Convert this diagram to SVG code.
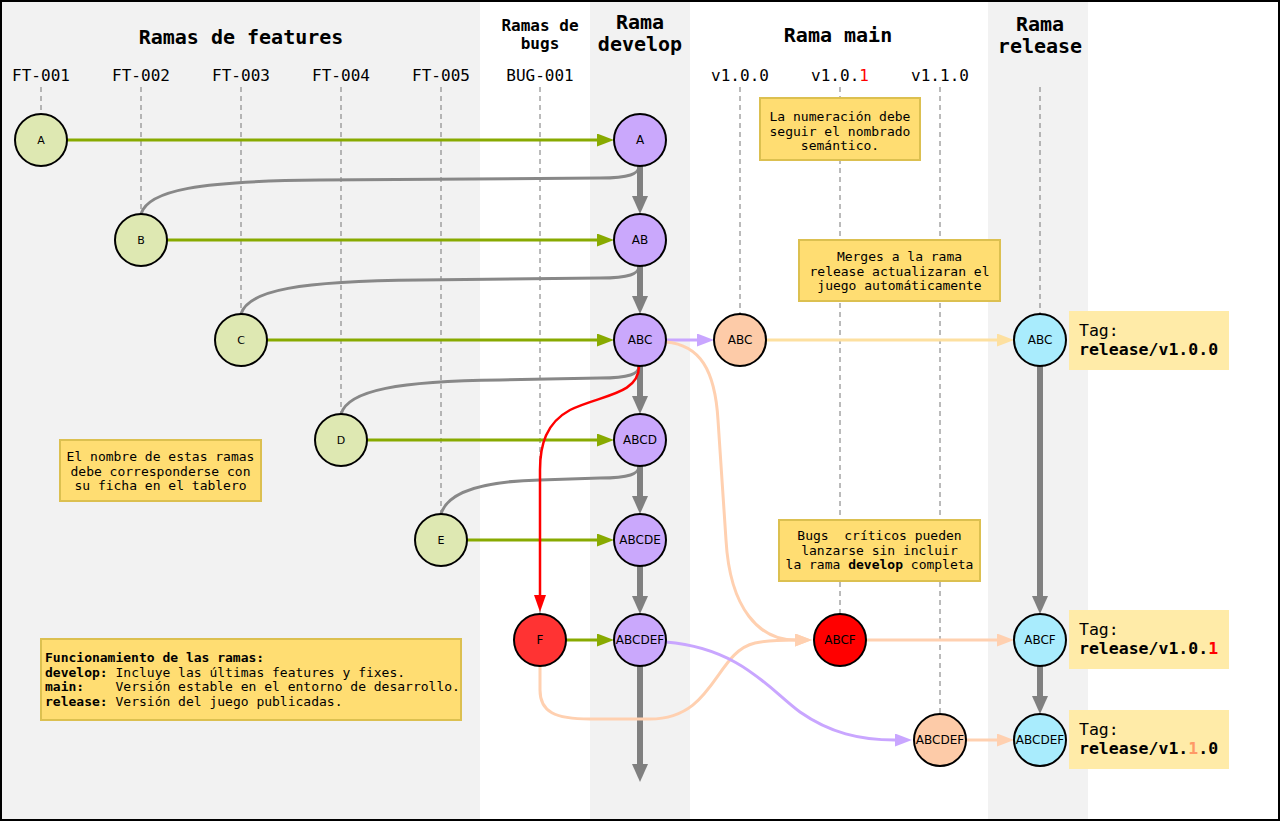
<svg xmlns="http://www.w3.org/2000/svg" width="1280" height="821" viewBox="0 0 1280 821">
<style>
.hdr{font-family:"DejaVu Sans Mono","Liberation Mono",monospace;font-weight:bold;font-size:20px;fill:#000;text-anchor:middle}
.hdr2{font-family:"DejaVu Sans Mono","Liberation Mono",monospace;font-weight:bold;font-size:16px;fill:#000;text-anchor:middle}
.col{font-family:"DejaVu Sans Mono","Liberation Mono",monospace;font-size:16px;fill:#000;text-anchor:middle}
.dash{stroke:#777;stroke-width:1;stroke-dasharray:5,4;fill:none}
.node{stroke:#000;stroke-width:2}
.nt{font-family:"DejaVu Sans","Liberation Sans",sans-serif;font-size:12px;fill:#000;text-anchor:middle;dominant-baseline:central}
.ntf{font-family:"DejaVu Sans","Liberation Sans",sans-serif;font-size:11px;fill:#000;text-anchor:middle;dominant-baseline:central}
.feat{fill:#dee8b2}
.dev{fill:#caa8fc}
.bug{fill:#ff3333}
.mainp{fill:#fdcba8}
.mainr{fill:#ff0000}
.rel{fill:#a9ecfd}
.note{fill:#ffdd72;stroke:#dcc050;stroke-width:2}
.nte{font-family:"DejaVu Sans Mono","Liberation Mono",monospace;font-size:13px;fill:#000;text-anchor:middle}
.ntl{font-family:"DejaVu Sans Mono","Liberation Mono",monospace;font-size:13px;fill:#000}
.tagbox{fill:#ffeba8}
.tag{font-family:"DejaVu Sans Mono","Liberation Mono",monospace;font-size:16.5px;fill:#000}
.trunk{stroke:#808080;stroke-width:6;fill:none}
.gcurve{stroke:#888;stroke-width:3;fill:none}
.green{stroke:#88aa00;stroke-width:3;fill:none;marker-end:url(#mGreen)}
.lav{stroke:#c9a6ff;stroke-width:3;fill:none;marker-end:url(#mLav)}
.peach{stroke:#ffd0b0;stroke-width:3;fill:none;marker-end:url(#mPeach)}
.yel{stroke:#fde0a0;stroke-width:3;fill:none;marker-end:url(#mYel)}
.red{stroke:#ff0000;stroke-width:2.5;fill:none;marker-end:url(#mRed)}
</style>
<defs>
<marker id="mGray" markerUnits="userSpaceOnUse" markerWidth="18" markerHeight="16" refX="0" refY="8" orient="auto"><path d="M0,0 L18,8 L0,16 z" fill="#808080"/></marker>
<marker id="mGreen" markerUnits="userSpaceOnUse" markerWidth="17" markerHeight="13" refX="0" refY="6.5" orient="auto"><path d="M0,0 L17,6.5 L0,13 z" fill="#88aa00"/></marker>
<marker id="mLav" markerUnits="userSpaceOnUse" markerWidth="17" markerHeight="13" refX="0" refY="6.5" orient="auto"><path d="M0,0 L17,6.5 L0,13 z" fill="#c9a6ff"/></marker>
<marker id="mPeach" markerUnits="userSpaceOnUse" markerWidth="17" markerHeight="13" refX="0" refY="6.5" orient="auto"><path d="M0,0 L17,6.5 L0,13 z" fill="#ffd0b0"/></marker>
<marker id="mYel" markerUnits="userSpaceOnUse" markerWidth="17" markerHeight="13" refX="0" refY="6.5" orient="auto"><path d="M0,0 L17,6.5 L0,13 z" fill="#fde0a0"/></marker>
<marker id="mRed" markerUnits="userSpaceOnUse" markerWidth="17" markerHeight="12" refX="0" refY="6" orient="auto"><path d="M0,0 L17,6 L0,12 z" fill="#ff0000"/></marker>
</defs>

<!-- backgrounds -->
<rect x="0" y="0" width="1280" height="821" fill="#ffffff"/>
<rect x="0" y="0" width="480" height="821" fill="#f2f2f2"/>
<rect x="590" y="0" width="100" height="821" fill="#f2f2f2"/>
<rect x="988" y="0" width="100" height="821" fill="#f2f2f2"/>

<!-- headers -->
<g id="headers">
<text class="hdr" x="241" y="44">Ramas de features</text>
<text class="hdr2" x="540" y="31">Ramas de</text>
<text class="hdr2" x="540" y="49">bugs</text>
<text class="hdr" x="640" y="29">Rama</text>
<text class="hdr" x="640" y="51">develop</text>
<text class="hdr" x="838" y="42">Rama main</text>
<text class="hdr" x="1040" y="31">Rama</text>
<text class="hdr" x="1040" y="53">release</text>
<text class="col" x="41" y="81">FT-001</text>
<text class="col" x="141" y="81">FT-002</text>
<text class="col" x="241" y="81">FT-003</text>
<text class="col" x="341" y="81">FT-004</text>
<text class="col" x="441" y="81">FT-005</text>
<text class="col" x="540" y="81">BUG-001</text>
<text class="col" x="740" y="81">v1.0.0</text>
<text class="col" x="840" y="81">v1.0.<tspan fill="#ff0000">1</tspan></text>
<text class="col" x="940" y="81">v1.1.0</text>
</g>

<!-- dashed lifelines -->
<g id="lifelines">
<line class="dash" x1="41" y1="87" x2="41" y2="114"/>
<line class="dash" x1="141" y1="87" x2="141" y2="214"/>
<line class="dash" x1="241" y1="87" x2="241" y2="314"/>
<line class="dash" x1="341" y1="87" x2="341" y2="414"/>
<line class="dash" x1="441" y1="87" x2="441" y2="514"/>
<line class="dash" x1="540" y1="87" x2="540" y2="614"/>
<line class="dash" x1="740" y1="87" x2="740" y2="314"/>
<line class="dash" x1="840" y1="87" x2="840" y2="614"/>
<line class="dash" x1="940" y1="87" x2="940" y2="714"/>
<line class="dash" x1="1040" y1="87" x2="1040" y2="314"/>
</g>

<!-- connectors -->
<g id="connectors">
<path class="gcurve" d="M141,214 C148,190 200,181 320,180 L600,178 C630,178 638,174 640,166"/>
<path class="gcurve" d="M241,314 C248,290 300,281 420,280 L600,278 C630,278 638,274 640,266"/>
<path class="gcurve" d="M341,414 C348,390 400,381 500,380 L600,378 C630,378 638,374 640,366"/>
<path class="gcurve" d="M441,514 C448,490 490,481 540,480 L600,478 C630,478 638,474 640,466"/>

<line class="trunk" x1="640" y1="166" x2="640" y2="196" marker-end="url(#mGray)"/>
<line class="trunk" x1="640" y1="266" x2="640" y2="296" marker-end="url(#mGray)"/>
<line class="trunk" x1="640" y1="366" x2="640" y2="396" marker-end="url(#mGray)"/>
<line class="trunk" x1="640" y1="466" x2="640" y2="496" marker-end="url(#mGray)"/>
<line class="trunk" x1="640" y1="566" x2="640" y2="596" marker-end="url(#mGray)"/>
<line class="trunk" x1="640" y1="666" x2="640" y2="764" marker-end="url(#mGray)"/>
<line class="trunk" x1="1040" y1="366" x2="1040" y2="596" marker-end="url(#mGray)"/>
<line class="trunk" x1="1040" y1="666" x2="1040" y2="696" marker-end="url(#mGray)"/>

<line class="green" x1="67" y1="140" x2="597" y2="140"/>
<line class="green" x1="167" y1="240" x2="597" y2="240"/>
<line class="green" x1="267" y1="340" x2="597" y2="340"/>
<line class="green" x1="367" y1="440" x2="597" y2="440"/>
<line class="green" x1="467" y1="540" x2="597" y2="540"/>
<line class="green" x1="566" y1="640" x2="597" y2="640"/>

<path class="red" d="M639,366 C639,395 600,395 570,410 C546,423 540,445 540,470 L540,595"/>

<line class="lav" x1="666" y1="340" x2="697" y2="340"/>
<path class="peach" d="M666,342 C700,345 715,370 718,420 L726,540 C730,610 760,640 795,640"/>
<path class="peach" d="M540,666 L540,690 C540,712 555,719 590,719 L650,719 C715,719 715,652 755,643 C770,640 780,640 795,640"/>
<path class="lav" d="M666,642 C740,648 770,690 800,712 C830,733 860,740 895,740"/>

<line class="yel" x1="766" y1="340" x2="997" y2="340"/>
<line class="peach" x1="866" y1="640" x2="997" y2="640"/>
<line class="peach" x1="966" y1="740" x2="997" y2="740"/>
</g>

<!-- feature nodes -->
<g id="node-FA"><circle class="node feat" cx="41" cy="140" r="26"/><text class="ntf" x="41" y="140">A</text></g>
<g id="node-FB"><circle class="node feat" cx="141" cy="240" r="26"/><text class="ntf" x="141" y="240">B</text></g>
<g id="node-FC"><circle class="node feat" cx="241" cy="340" r="26"/><text class="ntf" x="241" y="340">C</text></g>
<g id="node-FD"><circle class="node feat" cx="341" cy="440" r="26"/><text class="ntf" x="341" y="440">D</text></g>
<g id="node-FE"><circle class="node feat" cx="441" cy="540" r="26"/><text class="ntf" x="441" y="540">E</text></g>
<g id="node-F"><circle class="node bug" cx="540" cy="640" r="26"/><text class="nt" x="540" y="640">F</text></g>

<!-- develop nodes -->
<g id="node-dA"><circle class="node dev" cx="640" cy="140" r="26"/><text class="nt" x="640" y="140">A</text></g>
<g id="node-dAB"><circle class="node dev" cx="640" cy="240" r="26"/><text class="nt" x="640" y="240">AB</text></g>
<g id="node-dABC"><circle class="node dev" cx="640" cy="340" r="26"/><text class="nt" x="640" y="340">ABC</text></g>
<g id="node-dABCD"><circle class="node dev" cx="640" cy="440" r="26"/><text class="nt" x="640" y="440">ABCD</text></g>
<g id="node-dABCDE"><circle class="node dev" cx="640" cy="540" r="26"/><text class="nt" x="640" y="540">ABCDE</text></g>
<g id="node-dABCDEF"><circle class="node dev" cx="640" cy="640" r="26"/><text class="nt" x="640" y="640" font-size="11.5">ABCDEF</text></g>

<!-- main nodes -->
<g id="node-mABC"><circle class="node mainp" cx="740" cy="340" r="26"/><text class="nt" x="740" y="340">ABC</text></g>
<g id="node-mABCF"><circle class="node mainr" cx="840" cy="640" r="26"/><text class="nt" x="840" y="640">ABCF</text></g>
<g id="node-mABCDEF"><circle class="node mainp" cx="940" cy="740" r="26"/><text class="nt" x="940" y="740" font-size="11.5">ABCDEF</text></g>

<!-- release nodes -->
<g id="node-rABC"><circle class="node rel" cx="1040" cy="340" r="26"/><text class="nt" x="1040" y="340">ABC</text></g>
<g id="node-rABCF"><circle class="node rel" cx="1040" cy="640" r="26"/><text class="nt" x="1040" y="640">ABCF</text></g>
<g id="node-rABCDEF"><circle class="node rel" cx="1040" cy="740" r="26"/><text class="nt" x="1040" y="740" font-size="11.5">ABCDEF</text></g>

<!-- tags -->
<g id="tag1"><rect class="tagbox" x="1069" y="311" width="160" height="59"/><text class="tag" x="1079" y="336">Tag:</text><text class="tag" x="1079" y="355" font-weight="bold">release/v1.0.0</text></g>
<g id="tag2"><rect class="tagbox" x="1069" y="610" width="160" height="59"/><text class="tag" x="1079" y="635">Tag:</text><text class="tag" x="1079" y="654" font-weight="bold">release/v1.0.<tspan fill="#ff0000">1</tspan></text></g>
<g id="tag3"><rect class="tagbox" x="1069" y="710" width="160" height="59"/><text class="tag" x="1079" y="735">Tag:</text><text class="tag" x="1079" y="754" font-weight="bold">release/v1.<tspan fill="#ff9966">1</tspan>.0</text></g>

<!-- notes -->
<g id="note-numeracion"><rect class="note" x="760" y="98" width="160" height="62"/>
<text class="nte" x="840" y="121">La numeración debe</text>
<text class="nte" x="840" y="135.5">seguir el nombrado</text>
<text class="nte" x="840" y="150">semántico.</text></g>
<g id="note-merges"><rect class="note" x="799" y="240" width="201" height="61"/>
<text class="nte" x="899.5" y="261">Merges a la rama</text>
<text class="nte" x="899.5" y="275.5">release actualizaran el</text>
<text class="nte" x="899.5" y="290">juego automáticamente</text></g>
<g id="note-bugs"><rect class="note" x="779" y="520" width="201" height="61"/>
<text class="nte" x="879.5" y="540" xml:space="preserve">Bugs  críticos pueden</text>
<text class="nte" x="879.5" y="554.5">lanzarse sin incluir</text>
<text class="nte" x="879.5" y="569">la rama <tspan font-weight="bold">develop</tspan> completa</text></g>
<g id="note-nombre"><rect class="note" x="60" y="440" width="201" height="61"/>
<text class="nte" x="160.5" y="461">El nombre de estas ramas</text>
<text class="nte" x="160.5" y="475.5">debe corresponderse con</text>
<text class="nte" x="160.5" y="490">su ficha en el tablero</text></g>
<g id="note-legend"><rect class="note" x="41" y="639" width="420" height="81"/>
<text class="ntl" x="45" y="662" font-weight="bold">Funcionamiento de las ramas:</text>
<text class="ntl" x="45" y="676.5"><tspan font-weight="bold">develop:</tspan><tspan x="115.5">Incluye las últimas features y fixes.</tspan></text>
<text class="ntl" x="45" y="691"><tspan font-weight="bold">main:</tspan><tspan x="115.5">Versión estable en el entorno de desarrollo.</tspan></text>
<text class="ntl" x="45" y="705.5"><tspan font-weight="bold">release:</tspan><tspan x="115.5">Versión del juego publicadas.</tspan></text></g>

<!-- frame -->
<rect x="1" y="1" width="1278" height="819" fill="none" stroke="#000" stroke-width="2"/>
</svg>
